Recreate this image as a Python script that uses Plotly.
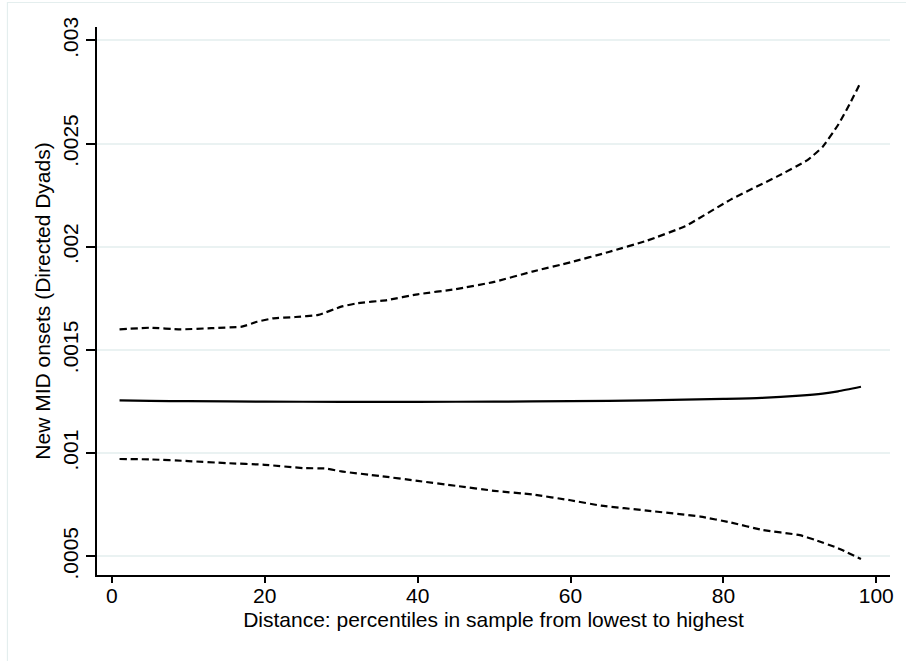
import plotly.graph_objects as go

# Distance percentile (x) and predicted values
x_center = [1, 5, 10, 20, 30, 40, 50, 60, 70, 80, 85, 90, 93, 95, 98]
y_center = [0.001256, 0.001254, 0.001252, 0.001250, 0.001249, 0.001249, 0.001250,
            0.001252, 0.001256, 0.001263, 0.001268, 0.001279, 0.001289, 0.001300, 0.001322]

x_upper = [1, 5, 9, 13, 17, 19, 21, 24, 27, 30, 32, 36, 40, 45, 50, 55, 60, 65, 70,
           75, 81, 87, 91, 93, 95, 96.5, 98]
y_upper = [0.001600, 0.001608, 0.001600, 0.001606, 0.001613, 0.001637, 0.001653,
           0.001660, 0.001670, 0.001710, 0.001726, 0.001742, 0.001770, 0.001795,
           0.001830, 0.001880, 0.001925, 0.001975, 0.002030, 0.002100, 0.002230,
           0.002340, 0.002420, 0.002485, 0.002590, 0.002690, 0.002800]

x_lower = [1, 5, 10, 15, 20, 25, 28, 30, 35, 40, 45, 50, 55, 60, 64, 70, 77, 81,
           85, 90, 92, 95, 98]
y_lower = [0.000972, 0.000970, 0.000962, 0.000952, 0.000944, 0.000928, 0.000926,
           0.000912, 0.000890, 0.000866, 0.000842, 0.000818, 0.000800, 0.000772,
           0.000746, 0.000722, 0.000693, 0.000664, 0.000629, 0.000603, 0.000580,
           0.000540, 0.000487]

y_tickvals = [0.0005, 0.001, 0.0015, 0.002, 0.0025, 0.003]
y_ticktext = [".0005", ".001", ".0015", ".002", ".0025", ".003"]
x_tickvals = [0, 20, 40, 60, 80, 100]

x_title = "Distance: percentiles in sample from lowest to highest"
y_title = "New MID onsets (Directed Dyads)"

FONT = "Liberation Sans, Arial, Helvetica, sans-serif"
FS = 21

fig = go.Figure()
fig.add_trace(go.Scatter(x=x_upper, y=y_upper, mode="lines",
                         line=dict(color="black", width=2.2, dash="7px,4px", shape="spline", smoothing=0.4),
                         showlegend=False, hoverinfo="skip"))
fig.add_trace(go.Scatter(x=x_lower, y=y_lower, mode="lines",
                         line=dict(color="black", width=2.2, dash="7px,4px", shape="spline", smoothing=0.4),
                         showlegend=False, hoverinfo="skip"))
fig.add_trace(go.Scatter(x=x_center, y=y_center, mode="lines",
                         line=dict(color="black", width=2.2, shape="spline", smoothing=0.6),
                         showlegend=False, hoverinfo="skip"))

fig.update_layout(
    width=906, height=661,
    margin=dict(l=97, r=12, t=27, b=86),
    paper_bgcolor="white", plot_bgcolor="white",
    font=dict(family=FONT, size=FS, color="black"),
    xaxis=dict(
        range=[-1.95, 101.8],
        tickvals=x_tickvals,
        ticks="outside", ticklen=6, tickwidth=2, tickcolor="black",
        ticklabelstandoff=-5,
        showline=True, linecolor="black", linewidth=2,
        showgrid=False, zeroline=False,
        title=dict(text=x_title, standoff=6, font=dict(size=FS)),
        tickfont=dict(size=FS),
    ),
    yaxis=dict(
        range=[0.00041, 0.003065],
        tickvals=y_tickvals, ticktext=y_ticktext,
        tickangle=-90,
        ticks="outside", ticklen=9, tickwidth=2, tickcolor="black",
        showline=True, linecolor="black", linewidth=2,
        showgrid=True, gridcolor="#eaf2f2", gridwidth=1.5,
        zeroline=False,
        title=dict(text=y_title, standoff=2, font=dict(size=FS)),
        tickfont=dict(size=FS),
    ),
    shapes=[dict(type="rect", xref="paper", yref="paper",
                 x0=(7 - 97) / 797, x1=(915 - 97) / 797,
                 y0=(575 - 670) / 548, y1=(575 - 2.5) / 548,
                 line=dict(color="#e4eeee", width=1.2), fillcolor="rgba(0,0,0,0)",
                 layer="below")],
)

fig.write_html("out.html")
